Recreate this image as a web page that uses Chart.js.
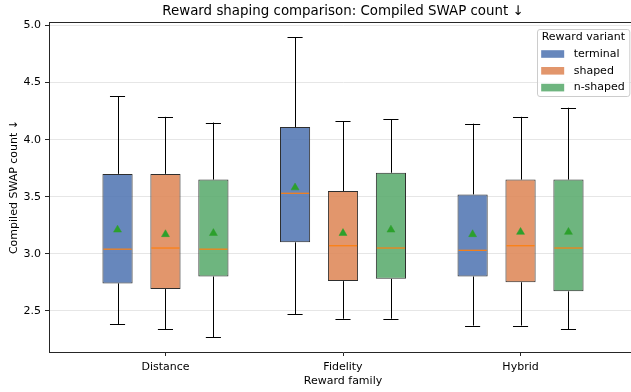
<!DOCTYPE html>
<html>
<head>
<meta charset="utf-8">
<script src="https://cdn.jsdelivr.net/npm/chart.js@4.4.1/dist/chart.umd.min.js"></script>
<style>
  html, body { margin: 0; padding: 0; background: #ffffff; overflow: hidden; }
  #wrap { width: 660px; height: 392px; }
</style>
</head>
<body>
<div id="wrap"><canvas id="chart" width="660" height="392"></canvas></div>
<script>
// Reward families on the x axis and reward variants within each family
const categories = ['Distance', 'Fidelity', 'Hybrid'];
const variants = ['terminal', 'shaped', 'n-shaped'];
const yTicks = [2.5, 3.0, 3.5, 4.0, 4.5, 5.0];

// Box statistics per variant, one value per family (Distance, Fidelity, Hybrid)
const terminalLow    = [2.38, 2.47, 2.37];
const terminalQ1     = [2.74, 3.10, 2.80];
const terminalMedian = [3.04, 3.53, 3.03];
const terminalQ3     = [3.70, 4.11, 3.52];
const terminalHigh   = [4.38, 4.90, 4.14];
const terminalMean   = [3.21, 3.58, 3.17];

const shapedLow    = [2.34, 2.43, 2.37];
const shapedQ1     = [2.69, 2.76, 2.75];
const shapedMedian = [3.05, 3.07, 3.07];
const shapedQ3     = [3.70, 3.55, 3.65];
const shapedHigh   = [4.20, 4.16, 4.20];
const shapedMean   = [3.17, 3.18, 3.19];

const nShapedLow    = [2.27, 2.43, 2.34];
const nShapedQ1     = [2.80, 2.78, 2.67];
const nShapedMedian = [3.04, 3.05, 3.05];
const nShapedQ3     = [3.65, 3.71, 3.65];
const nShapedHigh   = [4.15, 4.18, 4.28];
const nShapedMean   = [3.18, 3.21, 3.19];

const stats = [
  { low: terminalLow, q1: terminalQ1, median: terminalMedian, q3: terminalQ3, high: terminalHigh, mean: terminalMean },
  { low: shapedLow,   q1: shapedQ1,   median: shapedMedian,   q3: shapedQ3,   high: shapedHigh,   mean: shapedMean },
  { low: nShapedLow,  q1: nShapedQ1,  median: nShapedMedian,  q3: nShapedQ3,  high: nShapedHigh,  mean: nShapedMean }
];

// Styling
const FONT = '"DejaVu Sans", "Liberation Sans", sans-serif';
const fills = ['rgba(76,114,176,0.85)', 'rgba(221,132,82,0.85)', 'rgba(85,168,104,0.85)'];
const edge = '#2e2e2e';
const spine = '#262626';
const medianColor = '#ff7f0e';
const meanColor = '#2ca02c';
const slotOffset = 0.27;   // distance between neighbouring boxes in a family
const boxWidth = 0.17;     // box width in x units

// y range with a 5% margin around the whisker extremes
const allLow = Math.min(...stats.flatMap(s => s.low));
const allHigh = Math.max(...stats.flatMap(s => s.high));
const yPad = (allHigh - allLow) * 0.05;

const boxDatasets = variants.map((name, v) => ({
  type: 'bar',
  label: name,
  order: 1,
  data: categories.map((c, g) => ({ x: g + (v - 1) * slotOffset, y: [stats[v].q1[g], stats[v].q3[g]] })),
  backgroundColor: fills[v],
  borderColor: edge,
  borderWidth: 1,
  borderSkipped: false,
  grouped: false,
  categoryPercentage: 1,
  barPercentage: boxWidth / slotOffset
}));

const meanDatasets = variants.map((name, v) => ({
  type: 'scatter',
  label: name + ' mean',
  order: 0,
  data: categories.map((c, g) => ({ x: g + (v - 1) * slotOffset, y: stats[v].mean[g] })),
  pointStyle: 'triangle',
  pointRadius: 4.6,
  pointHoverRadius: 4.6,
  backgroundColor: meanColor,
  borderColor: meanColor,
  borderWidth: 0.5
}));

// Whiskers, caps and median line for each box, drawn right after its bar dataset
const whiskerPlugin = {
  id: 'whiskers',
  afterDatasetDraw(chart, args) {
    const v = args.index;
    if (v >= variants.length) return;
    const ctx = chart.ctx;
    const yScale = chart.scales.y;
    const meta = chart.getDatasetMeta(v);
    const s = stats[v];
    ctx.save();
    meta.data.forEach((el, g) => {
      const x = Math.round(el.x) + 0.5;
      const half = el.width / 2;
      const yLow = yScale.getPixelForValue(s.low[g]);
      const yQ1 = yScale.getPixelForValue(s.q1[g]);
      const yQ3 = yScale.getPixelForValue(s.q3[g]);
      const yHigh = yScale.getPixelForValue(s.high[g]);
      const yMed = yScale.getPixelForValue(s.median[g]);
      ctx.strokeStyle = '#000000';
      ctx.lineWidth = 1;
      ctx.beginPath();
      ctx.moveTo(x, yQ3); ctx.lineTo(x, yHigh);
      ctx.moveTo(x, yQ1); ctx.lineTo(x, yLow);
      const capL = el.x - half / 2, capR = el.x + half / 2;
      ctx.moveTo(capL, Math.round(yHigh) + 0.5); ctx.lineTo(capR, Math.round(yHigh) + 0.5);
      ctx.moveTo(capL, Math.round(yLow) + 0.5); ctx.lineTo(capR, Math.round(yLow) + 0.5);
      ctx.stroke();
      ctx.strokeStyle = medianColor;
      ctx.lineWidth = 1.2;
      ctx.beginPath();
      ctx.moveTo(el.x - half + 1, yMed); ctx.lineTo(el.x + half - 1, yMed);
      ctx.stroke();
    });
    ctx.restore();
  }
};

// Title, top spine and the in-plot legend
const decorPlugin = {
  id: 'decor',
  afterDraw(chart) {
    const ctx = chart.ctx;
    const area = chart.chartArea;
    ctx.save();
    // top spine
    ctx.strokeStyle = spine;
    ctx.lineWidth = 1;
    ctx.beginPath();
    ctx.moveTo(area.left, Math.round(area.top) + 0.5);
    ctx.lineTo(area.right, Math.round(area.top) + 0.5);
    ctx.stroke();

    // title centred over the plot area
    ctx.fillStyle = '#000000';
    ctx.font = '13.4px ' + FONT;
    ctx.textAlign = 'center';
    ctx.textBaseline = 'middle';
    ctx.fillText('Reward shaping comparison: Compiled SWAP count \u2193', (area.left + area.right) / 2, 12);

    // legend
    ctx.font = '11px ' + FONT;
    const legendTitle = 'Reward variant';
    const titleW = ctx.measureText(legendTitle).width;
    const boxW = titleW + 9;
    const right = area.right - 7.5;
    const left = right - boxW;
    const top = area.top + 7;
    const rowH = 16.8;
    const boxH = 67;
    ctx.beginPath();
    ctx.roundRect(Math.round(left) + 0.5, Math.round(top) + 0.5, boxW, boxH, 2.5);
    ctx.fillStyle = 'rgba(255,255,255,0.8)';
    ctx.fill();
    ctx.strokeStyle = '#cccccc';
    ctx.stroke();

    ctx.fillStyle = '#000000';
    ctx.textAlign = 'center';
    ctx.fillText(legendTitle, left + boxW / 2, top + 8);
    ctx.textAlign = 'left';
    variants.forEach((name, v) => {
      const cy = top + 25 + v * rowH;
      ctx.fillStyle = fills[v];
      ctx.fillRect(left + 4, cy - 3.8, 23, 7.6);
      ctx.fillStyle = '#000000';
      ctx.fillText(name, left + 36.5, cy);
    });
    ctx.restore();
  }
};

new Chart(document.getElementById('chart'), {
  type: 'bar',
  data: { datasets: [...boxDatasets, ...meanDatasets] },
  plugins: [whiskerPlugin, decorPlugin],
  options: {
    responsive: false,
    animation: false,
    devicePixelRatio: 1,
    layout: { padding: { top: 22, left: 0, right: 23, bottom: 0 } },
    plugins: {
      legend: { display: false },
      title: { display: false },
      tooltip: { enabled: false }
    },
    events: [],
    scales: {
      x: {
        type: 'linear',
        min: -0.656,
        max: 2.656,
        offset: false,
        bounds: 'data',
        afterBuildTicks: (scale) => { scale.ticks = categories.map((c, i) => ({ value: i })); },
        afterFit: (scale) => { scale.height = 40; },
        ticks: {
          callback: (value) => categories[Math.round(value)],
          color: '#000000',
          font: { family: FONT, size: 11 },
          padding: 4.5,
          maxRotation: 0,
          autoSkip: false
        },
        grid: { drawOnChartArea: false, drawTicks: true, tickLength: 4, tickColor: spine, offset: false },
        border: { color: spine, width: 1 },
        title: {
          display: true,
          text: 'Reward family',
          color: '#000000',
          font: { family: FONT, size: 11 },
          padding: { top: 0, bottom: 4 }
        }
      },
      y: {
        type: 'linear',
        min: allLow - yPad,
        max: allHigh + yPad,
        bounds: 'data',
        afterBuildTicks: (scale) => { scale.ticks = yTicks.map(v => ({ value: v })); },
        afterFit: (scale) => { scale.width = 49; },
        ticks: {
          callback: (value) => value.toFixed(1),
          color: '#000000',
          font: { family: FONT, size: 11 },
          padding: 4
        },
        grid: { color: '#e6e6e6', lineWidth: 1, drawTicks: true, tickLength: 4, tickColor: spine },
        border: { color: spine, width: 1 },
        title: {
          display: true,
          text: 'Compiled SWAP count \u2193',
          color: '#000000',
          font: { family: FONT, size: 11 },
          padding: { top: 7.5, bottom: 0 }
        }
      }
    }
  }
});
</script>
</body>
</html>
